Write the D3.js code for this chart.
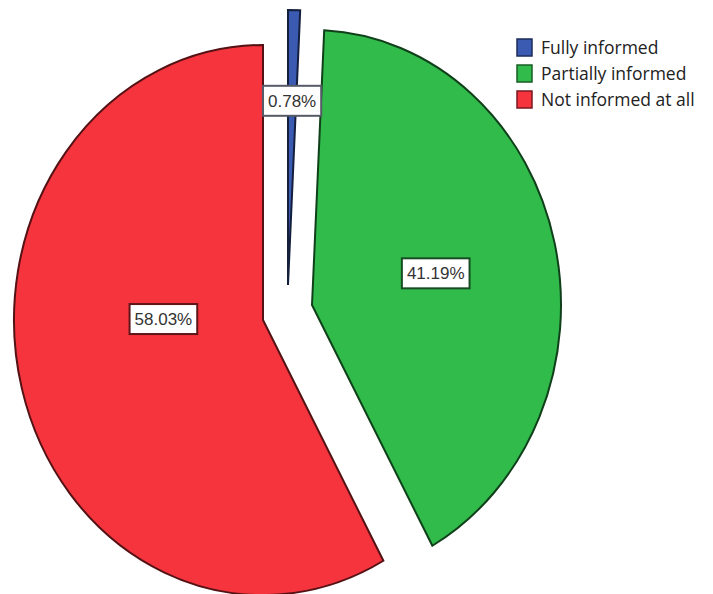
<!DOCTYPE html>
<html>
<head>
<meta charset="utf-8">
<script src="https://cdn.jsdelivr.net/npm/d3@7/dist/d3.min.js"></script>
<style>
  html, body { margin: 0; padding: 0; background: #ffffff; }
  svg { display: block; }
</style>
</head>
<body>
<svg id="chart" width="713" height="594"></svg>
<script>
// Awareness levels and their shares of respondents (%)
const categories = ["Fully informed", "Partially informed", "Not informed at all"];
const percents = [0.78, 41.19, 58.03];
const colors = ["#3b5bb3", "#30bb4b", "#f5343e"];
const labelText = ["0.78%", "41.19%", "58.03%"];

const W = 713, H = 594;
const svg = d3.select("#chart");

// Pie geometry: slightly taller than wide, each slice pulled away from the centre
const center = { x: 288, y: 308 };
const ry = 275, rx = 249;
const explode = [[0, -23], [24, -3], [-25, 12]];
// label placement: angle (null = slice mid-angle) and fraction of the radius
const labelPlace = [[null, 0.67], [null, 0.51], [270.5 * Math.PI / 180, 0.40]];

const pie = d3.pie().sort(null).value(d => d)(percents);
const arc = d3.arc().innerRadius(0).outerRadius(ry);

const slices = svg.append("g").selectAll("g.slice")
  .data(pie)
  .join("g")
  .attr("class", "slice")
  .attr("transform", (d, i) =>
    `translate(${center.x + explode[i][0]},${center.y + explode[i][1]}) scale(${rx / ry},1)`);

slices.append("path")
  .attr("d", arc)
  .attr("fill", (d, i) => colors[i])
  .attr("stroke", (d, i) => d3.color(colors[i]).darker(3))
  .attr("stroke-width", 2)
  .attr("stroke-linejoin", "miter")
  .attr("vector-effect", "non-scaling-stroke");

// Percentage labels in boxed tags
const labels = svg.append("g").selectAll("g.lab")
  .data(pie)
  .join("g")
  .attr("class", "lab")
  .attr("transform", (d, i) => {
    const a = labelPlace[i][0] == null ? (d.startAngle + d.endAngle) / 2 : labelPlace[i][0];
    const f = labelPlace[i][1];
    const x = center.x + explode[i][0] + rx * f * Math.sin(a);
    const y = center.y + explode[i][1] - ry * f * Math.cos(a);
    return `translate(${x},${y})`;
  });

const boxBorder = ["#555a66", "#174d22", "#5e1518"];
const boxes = labels.append("rect")
  .attr("fill", "#ffffff")
  .attr("stroke", (d, i) => boxBorder[i])
  .attr("stroke-width", 2);

const texts = labels.append("text")
  .attr("text-anchor", "middle")
  .attr("dy", "0.36em")
  .attr("font-family", "'Liberation Sans', Arial, sans-serif")
  .attr("font-size", 17)
  .attr("fill", "#333333")
  .text((d, i) => labelText[i]);

texts.each(function (d, i) {
  const b = this.getBBox();
  d3.select(boxes.nodes()[i])
    .attr("x", b.x - 5)
    .attr("y", -15)
    .attr("width", b.width + 10)
    .attr("height", 30);
});

// Legend
const legend = svg.append("g").attr("transform", "translate(517,39)");
const rows = legend.selectAll("g.row")
  .data(categories)
  .join("g")
  .attr("class", "row")
  .attr("transform", (d, i) => `translate(0,${i * 26})`);

rows.append("rect")
  .attr("width", 15)
  .attr("height", 17)
  .attr("fill", (d, i) => colors[i])
  .attr("stroke", (d, i) => d3.color(colors[i]).darker(2))
  .attr("stroke-width", 1.5);

rows.append("text")
  .attr("x", 24)
  .attr("y", 8.5)
  .attr("dy", "0.35em")
  .attr("font-family", "'Open Sans', 'Noto Sans', sans-serif")
  .attr("font-size", 17.5)
  .attr("fill", "#222222")
  .text(d => d);
</script>
</body>
</html>
